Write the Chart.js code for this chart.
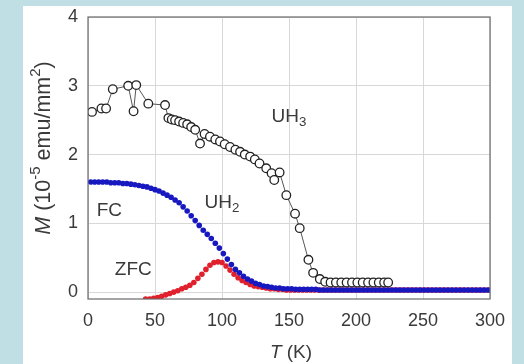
<!DOCTYPE html>
<html lang="en">
<head>
<meta charset="UTF-8">
<title>M vs T</title>
<script src="https://cdn.jsdelivr.net/npm/chart.js@4.4.0/dist/chart.umd.min.js"></script>
<style>
  body { margin: 0; background: #c0dfe5; width: 524px; height: 364px; overflow: hidden; }
  #panel { position: absolute; left: 23px; top: 6px; width: 489px; height: 358px; background: #fff; }
</style>
</head>
<body>
<div id="panel"><canvas id="chart"></canvas></div>
<script>
// tick labels
const xTicks = [0, 50, 100, 150, 200, 250, 300];
const yTicks = [0, 1, 2, 3, 4];

// UH3 (open circles)
const uh3T = [3, 10, 13.5, 18.5, 30, 34, 36, 45, 57.5, 60, 62.5, 65, 68, 71, 74, 77, 80, 83.6, 87,
  91, 95, 98.5, 102, 106, 110, 113.5, 117, 121, 124.5, 128, 133, 137, 139, 143, 148, 154.5, 158,
  164.5, 168, 173, 177, 181, 185, 189, 193, 197, 201, 205, 209, 213, 217, 221, 224];
const uh3M = [2.62, 2.67, 2.67, 2.95, 3.00, 2.63, 3.01, 2.74, 2.72, 2.53, 2.51, 2.50, 2.48, 2.46, 2.44, 2.40, 2.36, 2.16, 2.30,
  2.26, 2.22, 2.19, 2.15, 2.11, 2.07, 2.04, 2.00, 1.97, 1.93, 1.87, 1.80, 1.73, 1.63, 1.74, 1.41, 1.14, 0.93,
  0.47, 0.28, 0.19, 0.15, 0.14, 0.14, 0.14, 0.14, 0.14, 0.14, 0.14, 0.14, 0.14, 0.14, 0.14, 0.14];

// UH2 field cooled (blue)
const fcT = [2, 5, 8, 11, 14, 17, 20, 23, 26, 29, 32, 35, 38, 41, 44, 47, 50, 53, 56, 59,
  62, 65, 68, 71, 74, 77, 80, 83, 86, 89, 92, 95, 98, 101, 104, 107, 110, 113, 116, 119,
  122, 125, 128, 131, 134, 137, 140, 143, 146, 149, 152, 155, 158, 161, 164, 167, 170, 173, 176, 179,
  182, 185, 188, 191, 194, 197, 200, 203, 206, 209, 212, 215, 218, 221, 224, 227, 230, 233, 236, 239,
  242, 245, 248, 251, 254, 257, 260, 263, 266, 269, 272, 275, 278, 281, 284, 287, 290, 293, 296, 299];
const fcM = [1.60, 1.60, 1.60, 1.60, 1.60, 1.59, 1.59, 1.59, 1.58, 1.58, 1.57, 1.56, 1.55, 1.54, 1.53, 1.51, 1.49, 1.47, 1.44, 1.41,
  1.38, 1.34, 1.30, 1.24, 1.18, 1.11, 1.04, 0.97, 0.90, 0.84, 0.78, 0.71, 0.64, 0.56, 0.48, 0.40, 0.33, 0.28, 0.23, 0.19,
  0.16, 0.13, 0.11, 0.09, 0.08, 0.07, 0.06, 0.06, 0.05, 0.05, 0.05, 0.04, 0.04, 0.04, 0.04, 0.04, 0.04, 0.03, 0.03, 0.03,
  0.03, 0.03, 0.03, 0.03, 0.03, 0.03, 0.03, 0.03, 0.03, 0.03, 0.03, 0.03, 0.03, 0.03, 0.03, 0.03, 0.03, 0.03, 0.03, 0.03,
  0.03, 0.03, 0.03, 0.03, 0.03, 0.03, 0.03, 0.03, 0.03, 0.03, 0.03, 0.03, 0.03, 0.03, 0.03, 0.03, 0.03, 0.03, 0.03, 0.03];

// UH2 zero field cooled (red)
const zfcT = [43, 46, 49, 52, 55, 58, 61, 64, 67, 70, 73, 76, 79, 82, 85, 88, 91, 94, 97, 100,
  103, 106, 109, 112, 115, 118, 121, 124, 127, 130, 133, 136, 139, 142, 145, 148, 151, 154, 157, 160,
  163, 166, 169, 172, 175, 178, 181, 184, 187, 190, 193, 196, 199, 202, 205, 208, 211, 214, 217, 220,
  223, 226, 229, 232, 235, 238, 241, 244, 247, 250, 253, 256, 259, 262, 265, 268, 271, 274, 277, 280,
  283, 286, 289, 292, 295, 298];
const zfcM = [-0.10, -0.10, -0.09, -0.08, -0.06, -0.04, -0.02, 0.00, 0.02, 0.05, 0.07, 0.10, 0.14, 0.20, 0.26, 0.33, 0.39, 0.43, 0.44, 0.43,
  0.38, 0.32, 0.26, 0.21, 0.17, 0.14, 0.11, 0.09, 0.08, 0.07, 0.06, 0.05, 0.05, 0.04, 0.04, 0.03, 0.03, 0.03, 0.03, 0.03,
  0.03, 0.03, 0.03, 0.03, 0.03, 0.03, 0.03, 0.03, 0.03, 0.03, 0.03, 0.03, 0.03, 0.03, 0.03, 0.03, 0.03, 0.03, 0.03, 0.03,
  0.03, 0.03, 0.03, 0.03, 0.03, 0.03, 0.03, 0.03, 0.03, 0.03, 0.03, 0.03, 0.03, 0.03, 0.03, 0.03, 0.03, 0.03, 0.03, 0.03,
  0.03, 0.03, 0.03, 0.03, 0.03, 0.03];

// text labels inside the plot: [parts, T, M]
const notes = [
  [[{ t: 'UH' }, { t: '3', sub: true }], 137, 2.55],
  [[{ t: 'UH' }, { t: '2', sub: true }], 87, 1.30],
  [[{ t: 'FC' }], 6.5, 1.18],
  [[{ t: 'ZFC' }], 20, 0.33]
];

const FONT = '"Liberation Sans", Arial, sans-serif';
const TXT = '#3a3a3a';

function pts(xs, ys) {
  return xs.map((x, i) => ({ x: x, y: ys[i] }));
}

// draw a run of text pieces with sub/superscripts
function drawRich(ctx, parts, x, y, size, align) {
  let widths = parts.map(p => {
    ctx.font = (p.italic ? 'italic ' : '') + ((p.sub || p.sup) ? size * 0.7 : size) + 'px ' + FONT;
    return ctx.measureText(p.t).width;
  });
  let total = widths.reduce((a, b) => a + b, 0);
  let cx = align === 'center' ? x - total / 2 : x;
  ctx.textBaseline = 'middle';
  ctx.textAlign = 'left';
  parts.forEach((p, i) => {
    ctx.font = (p.italic ? 'italic ' : '') + ((p.sub || p.sup) ? size * 0.7 : size) + 'px ' + FONT;
    let dy = p.sub ? size * 0.3 : (p.sup ? -size * 0.4 : 0);
    ctx.fillText(p.t, cx, y + dy);
    cx += widths[i];
  });
}

const extras = {
  id: 'extras',
  afterDraw(chart) {
    const ctx = chart.ctx, a = chart.chartArea;
    const sx = chart.scales.x, sy = chart.scales.y;
    ctx.save();
    // frame
    ctx.strokeStyle = '#6a6a6a';
    ctx.lineWidth = 1.2;
    ctx.strokeRect(a.left, a.top, a.right - a.left, a.bottom - a.top);
    ctx.fillStyle = TXT;
    // labels inside plot
    notes.forEach(n => {
      drawRich(ctx, n[0], sx.getPixelForValue(n[1]), sy.getPixelForValue(n[2]), 19, 'left');
    });
    // x title
    drawRich(ctx, [{ t: 'T', italic: true }, { t: ' (K)' }], (a.left + a.right) / 2 + 2, 347, 19, 'center');
    // y title
    ctx.translate(21, 142);
    ctx.rotate(-Math.PI / 2);
    drawRich(ctx, [{ t: 'M', italic: true }, { t: ' (10' }, { t: '-5', sup: true }, { t: ' emu/mm' }, { t: '2', sup: true }, { t: ')' }], 0, 0, 21.5, 'center');
    ctx.restore();
  }
};

new Chart(document.getElementById('chart'), {
  type: 'scatter',
  data: {
    datasets: [
      {
        label: 'UH3',
        data: pts(uh3T, uh3M),
        showLine: true,
        borderColor: '#555',
        borderWidth: 1,
        pointRadius: 4.3,
        pointBackgroundColor: '#fff',
        pointBorderColor: '#222',
        pointBorderWidth: 1.3
      },
      {
        label: 'FC',
        data: pts(fcT, fcM),
        pointRadius: 2.8,
        pointBackgroundColor: '#1818c0',
        pointBorderColor: '#1818c0',
        pointBorderWidth: 0
      },
      {
        label: 'ZFC',
        data: pts(zfcT, zfcM),
        pointRadius: 2.8,
        pointBackgroundColor: '#e0202c',
        pointBorderColor: '#e0202c',
        pointBorderWidth: 0
      }
    ]
  },
  options: {
    responsive: true,
    maintainAspectRatio: false,
    animation: false,
    layout: { padding: { top: 11, right: 22, left: 0, bottom: 0 } },
    plugins: { legend: { display: false }, tooltip: { enabled: false } },
    scales: {
      x: {
        type: 'linear',
        min: 0,
        max: 300,
        afterBuildTicks: s => { s.ticks = xTicks.map(v => ({ value: v })); },
        afterFit: s => { s.height = 65; s.paddingLeft = 0; s.paddingRight = 0; },
        grid: { color: '#d8d8d8', drawTicks: false },
        border: { display: false },
        ticks: { padding: 11, color: TXT, font: { family: FONT, size: 18 } }
      },
      y: {
        type: 'linear',
        min: -0.1,
        max: 4,
        afterBuildTicks: s => { s.ticks = yTicks.map(v => ({ value: v })); },
        afterFit: s => { s.width = 65; s.paddingTop = 0; s.paddingBottom = 0; },
        grid: { color: '#d8d8d8', drawTicks: false },
        border: { display: false },
        ticks: { padding: 10, color: TXT, font: { family: FONT, size: 18 } }
      }
    }
  },
  plugins: [extras]
});
</script>
</body>
</html>
